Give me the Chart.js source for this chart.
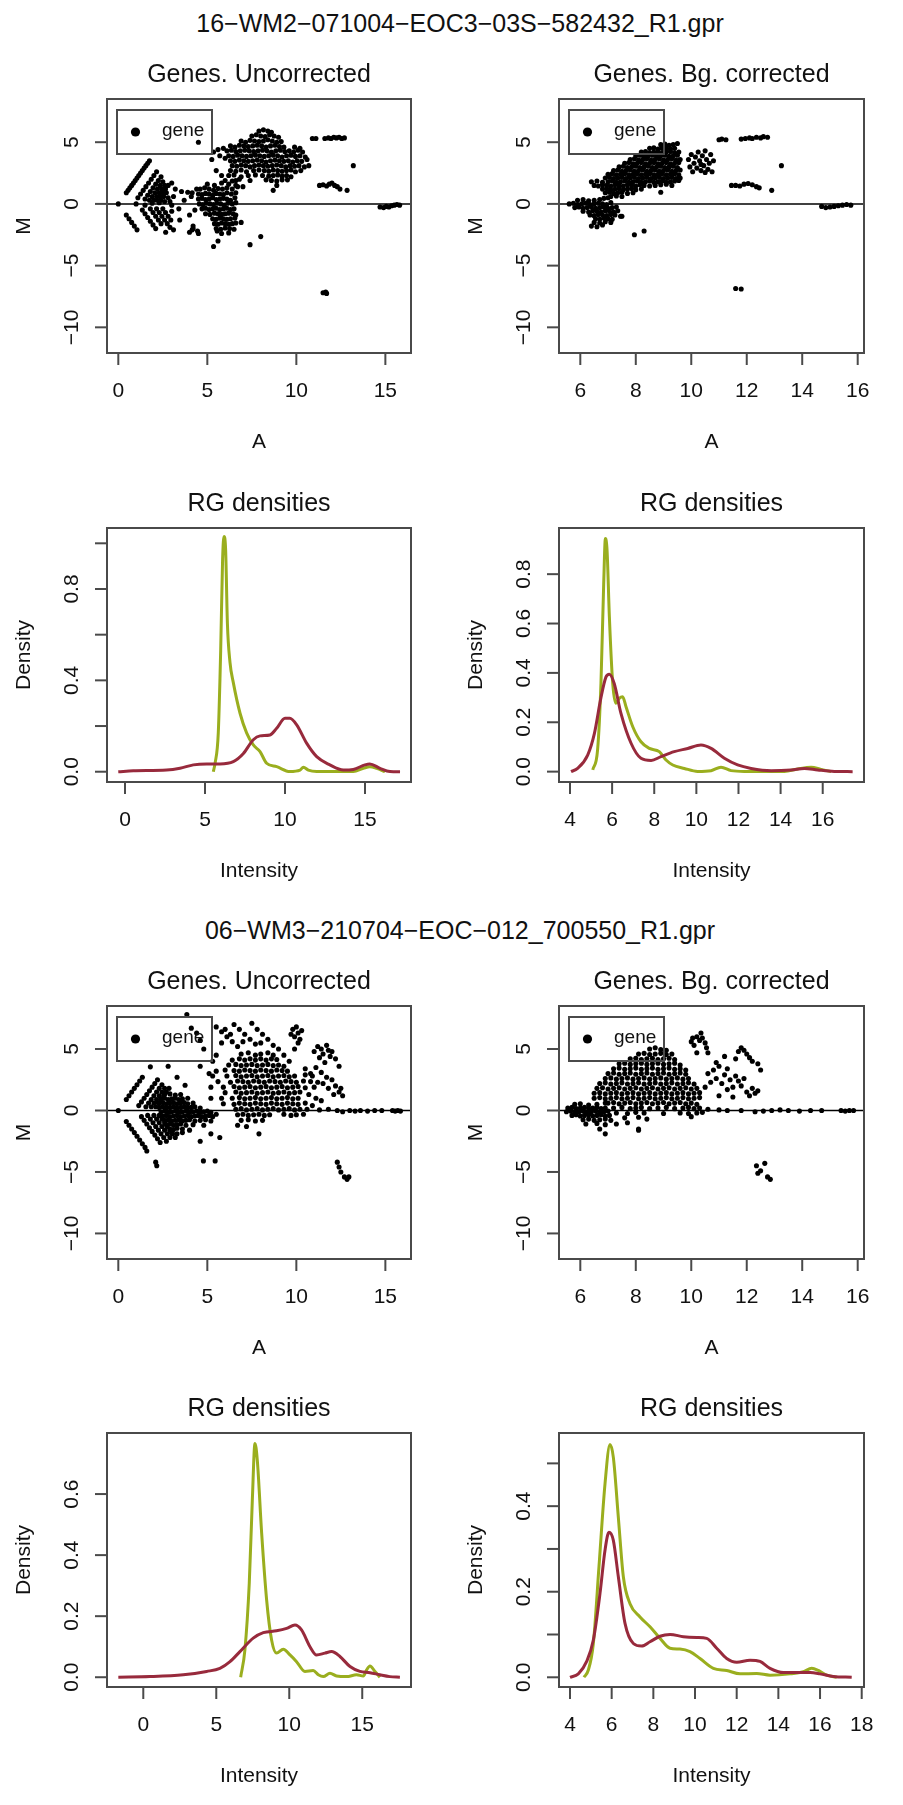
<!DOCTYPE html>
<html>
<head>
<meta charset="utf-8">
<script src="https://cdn.jsdelivr.net/npm/chart.js@4.4.0/dist/chart.umd.min.js"></script>
<style>
  body { margin: 0; background: #fff; width: 903px; height: 1805px; position: relative; overflow: hidden; font-family: "Liberation Sans", Arial, sans-serif; }
  canvas { position: absolute; }
  .main { position: absolute; left: 0; width: 920px; text-align: center; font-size: 25px; line-height: 30px; color: #111; }
</style>
</head>
<body>
<div class="main" style="top:8px">16−WM2−071004−EOC3−03S−582432_R1.gpr</div>
<div class="main" style="top:915px">06−WM3−210704−EOC−012_700550_R1.gpr</div>

<canvas id="s1"></canvas><canvas id="s2"></canvas>
<canvas id="d1"></canvas><canvas id="d2"></canvas>
<canvas id="s3"></canvas><canvas id="s4"></canvas>
<canvas id="d3"></canvas><canvas id="d4"></canvas>

<script>
// ---- tick values ----
const scatterYTicks = [-10, -5, 0, 5];
const xTicksWide = [0, 5, 10, 15];
const xTicksBg = [6, 8, 10, 12, 14, 16];
const d1YTicks = [0, 0.2, 0.4, 0.6, 0.8, 1.0];
const d1YLabels = [0, 0.4, 0.8];
const d2YTicks = [0, 0.2, 0.4, 0.6, 0.8];
const d3YTicks = [0, 0.2, 0.4, 0.6];
const d4YTicks = [0, 0.1, 0.2, 0.3, 0.4, 0.5];
const d4YLabels = [0, 0.2, 0.4];
const d2XTicks = [4, 6, 8, 10, 12, 14, 16];
const d4XTicks = [4, 6, 8, 10, 12, 14, 16, 18];

// ---- MA plot points [A, M] ----
// array 1: 16-WM2, uncorrected
const s1Pts = [
  [0,0],[0.45,0.9],[0.55,1.1],[0.65,1.3],[0.75,1.5],[0.85,1.7],[0.95,1.9],[1.05,2.1],[1.15,2.3],[1.25,2.5],[1.35,2.7],[1.45,2.9],[1.55,3.1],[1.65,3.3],[1.75,3.5],
  [1.1,0.5],[1.25,0.8],[1.4,1.1],[1.55,1.4],[1.7,1.7],[1.85,2.0],[2.0,2.3],[2.15,2.6],
  [1.5,0.4],[1.65,0.7],[1.8,1.0],[1.95,1.3],[2.1,1.6],[2.25,1.9],[2.4,2.2],
  [1.75,0.3],[1.9,0.6],[2.05,0.9],[2.2,1.2],[2.35,1.5],[2.5,1.8],
  [2.0,0.3],[2.15,0.6],[2.3,0.9],[2.45,1.2],[2.6,1.5],
  [2.2,0.3],[2.35,0.6],[2.5,0.9],[2.65,1.2],[2.8,1.5],
  [2.4,0.3],[2.55,0.6],[2.7,0.9],
  [1.0,0.0],[1.5,-0.1],[1.9,0.05],[2.3,0.1],[2.6,0.2],[2.8,0.5],[2.9,0.2],[3.0,-0.1],
  [0.45,-0.9],[0.6,-1.2],[0.75,-1.5],[0.9,-1.8],[1.05,-2.1],
  [1.35,-0.5],[1.5,-0.8],[1.65,-1.1],[1.8,-1.4],[1.95,-1.7],[2.1,-2.0],
  [1.8,-0.4],[1.95,-0.7],[2.1,-1.0],[2.25,-1.3],[2.4,-1.6],
  [2.15,-0.4],[2.3,-0.7],[2.45,-1.0],[2.6,-1.3],[2.75,-1.6],[2.9,-1.9],
  [2.5,-0.4],[2.65,-0.7],[2.8,-1.0],[2.95,-1.3],
  [2.66,-2.3],[3.1,-2.1],[3.45,-1.3],[3.0,-0.6],
  [3.1,0.6],[3.0,1.7],[3.2,1.2],[3.55,1.0],[3.9,0.95],[4.15,0.9],[4.1,0.6],[3.7,0.3],[4.3,-0.5],[4.15,-2.1],[4.2,-1.8],[4.5,-2.4],[4.45,-2.2],[3.4,-0.4],[4.0,-0.9],[4.4,1.2],[4.5,5.0],
  [5.0,1.6],[5.4,1.5],[5.8,1.7],[6.2,1.6],[6.6,1.9],
  [4.6,1.2],[4.85,1.3],[5.1,1.2],[5.35,1.1],[5.6,1.25],[5.85,1.2],[6.1,1.3],[6.4,1.2],[6.7,1.4],
  [4.5,0.8],[4.7,0.75],[4.9,0.85],[5.1,0.8],[5.3,0.7],[5.5,0.85],[5.7,0.8],[5.9,0.75],[6.1,0.9],[6.35,0.8],[6.6,0.9],
  [4.5,0.4],[4.7,0.45],[4.9,0.35],[5.1,0.4],[5.3,0.5],[5.5,0.35],[5.7,0.4],[5.9,0.45],[6.1,0.4],[6.3,0.3],[6.55,0.5],
  [4.55,0.0],[4.75,-0.05],[4.95,0.05],[5.15,0.0],[5.35,-0.05],[5.55,0.05],[5.75,0.0],[5.95,-0.1],[6.15,0.05],[6.4,0.0],[6.6,0.1],
  [4.7,-0.4],[4.9,-0.35],[5.1,-0.45],[5.3,-0.4],[5.5,-0.35],[5.7,-0.45],[5.9,-0.4],[6.1,-0.35],[6.3,-0.45],[6.5,-0.4],
  [4.9,-0.8],[5.15,-0.85],[5.4,-0.75],[5.6,-0.8],[5.8,-0.85],[6.0,-0.8],[6.2,-0.75],[6.45,-0.8],[6.6,-0.9],
  [5.3,-1.2],[5.5,-1.25],[5.7,-1.15],[5.9,-1.2],[6.1,-1.25],[6.3,-1.2],[6.55,-1.15],
  [5.4,-1.6],[5.6,-1.65],[5.8,-1.55],[6.0,-1.6],[6.2,-1.65],[6.4,-1.6],[6.6,-1.55],
  [5.5,-2.0],[5.75,-2.05],[6.0,-1.95],[6.25,-2.0],[6.5,-2.05],
  [5.8,-2.4],[6.2,-2.35],[5.55,-2.2],
  [5.35,-3.45],[5.6,-3.0],[7.4,-3.3],[8.0,-2.65],[6.9,-1.5],[4.2,-2.0],[4.0,-2.3],
  [5.25,3.6],[5.35,4.2],[5.6,4.4],[5.9,4.5],[5.7,3.9],[6.0,3.7],[5.5,2.7],[5.8,2.3],
  [7.9,5.9],[8.15,6.0],[8.4,5.9],[8.6,5.8],
  [7.5,5.5],[7.75,5.6],[8.0,5.5],[8.25,5.45],[8.5,5.6],[8.75,5.5],[9.0,5.4],
  [6.9,5.1],[7.15,5.0],[7.4,5.15],[7.65,5.1],[7.9,5.05],[8.15,5.1],[8.4,5.2],[8.65,5.1],[8.9,5.0],[9.15,5.05],
  [6.3,4.7],[6.55,4.6],[6.8,4.75],[7.05,4.7],[7.3,4.65],[7.55,4.7],[7.8,4.75],[8.05,4.7],[8.3,4.6],[8.55,4.7],[8.8,4.75],[9.05,4.65],[9.3,4.6],[9.9,4.6],[10.2,4.5],
  [6.1,4.3],[6.35,4.35],[6.6,4.25],[6.85,4.3],[7.1,4.35],[7.35,4.3],[7.6,4.25],[7.85,4.3],[8.1,4.35],[8.35,4.3],[8.6,4.2],[8.85,4.3],[9.1,4.35],[9.35,4.25],[9.6,4.3],[9.85,4.2],[10.1,4.35],[10.35,4.2],
  [6.2,3.9],[6.45,3.85],[6.7,3.95],[6.95,3.9],[7.2,3.85],[7.45,3.9],[7.7,3.95],[7.95,3.9],[8.2,3.85],[8.45,3.9],[8.7,3.95],[8.95,3.9],[9.2,3.8],[9.45,3.9],[9.7,3.95],[9.95,3.85],[10.2,3.9],[10.5,3.8],
  [6.3,3.5],[6.55,3.45],[6.8,3.55],[7.05,3.5],[7.3,3.45],[7.55,3.5],[7.8,3.55],[8.05,3.5],[8.3,3.4],[8.55,3.5],[8.8,3.55],[9.05,3.5],[9.3,3.45],[9.55,3.5],[9.8,3.4],[10.05,3.5],[10.3,3.45],[10.6,3.6],
  [6.4,3.1],[6.65,3.05],[6.9,3.15],[7.15,3.1],[7.4,3.0],[7.65,3.1],[7.9,3.15],[8.15,3.1],[8.4,3.05],[8.65,3.1],[8.9,3.15],[9.15,3.1],[9.4,3.0],[9.65,3.1],[9.9,3.05],[10.15,3.1],[10.45,3.0],[10.7,3.1],
  [6.3,2.7],[6.6,2.65],[6.9,2.75],[7.2,2.6],[7.6,2.7],[7.9,2.75],[8.2,2.7],[8.45,2.65],[8.7,2.75],[8.95,2.7],[9.2,2.65],[9.45,2.7],[9.7,2.75],[9.95,2.6],[10.25,2.7],
  [6.2,2.3],[6.5,2.35],[6.9,2.2],[7.3,2.3],[7.7,2.35],[8.1,2.3],[8.45,2.25],[8.7,2.3],[8.95,2.35],[9.2,2.25],[9.45,2.3],[9.7,2.2],
  [6.0,1.9],[6.4,1.85],[6.8,2.0],[7.4,1.9],[8.3,1.95],[8.6,1.9],[8.9,1.85],[9.2,1.95],[9.5,1.95],
  [6.6,1.5],[7.0,1.4],[8.7,1.1],[8.9,1.5],
  [10.9,5.3],[11.1,5.3],[11.6,5.3],[11.8,5.35],[11.95,5.3],[12.1,5.4],[12.25,5.35],[12.4,5.4],[12.55,5.3],[12.7,5.35],
  [11.3,1.5],[11.5,1.55],[11.7,1.45],[11.85,1.6],[12.0,1.7],[12.15,1.5],[12.3,1.4],[12.45,1.2],[12.85,1.1],[13.2,3.1],
  [14.7,-0.25],[14.9,-0.3],[15.05,-0.2],[15.2,-0.25],[15.35,-0.15],[15.5,-0.1],[15.65,-0.05],[15.8,-0.1],
  [11.5,-7.2],[11.65,-7.15],[11.7,-7.25]
];

// array 1: 16-WM2, background corrected
const s2Pts = [
  [5.9,0.3],[6.1,0.35],[6.3,0.25],[6.5,0.3],[6.7,0.35],[6.85,0.45],[7.0,0.5],
  [5.6,0.0],[5.75,0.05],[5.9,-0.05],[6.05,0.0],[6.2,0.05],[6.35,-0.05],[6.5,0.0],[6.65,0.05],[6.8,0.0],[6.95,-0.05],[7.1,0.1],
  [5.8,-0.3],[5.95,-0.25],[6.1,-0.35],[6.25,-0.3],[6.4,-0.25],[6.55,-0.35],[6.7,-0.3],[6.85,-0.25],[7.0,-0.35],[7.15,-0.3],[7.3,-0.25],
  [6.1,-0.6],[6.3,-0.65],[6.45,-0.55],[6.6,-0.6],[6.75,-0.65],[6.9,-0.55],[7.05,-0.6],[7.2,-0.65],[7.35,-0.55],
  [6.35,-0.9],[6.5,-0.95],[6.65,-0.85],[6.8,-0.9],[6.95,-0.95],[7.1,-0.85],[7.25,-0.9],[7.45,-1.0],
  [6.55,-1.2],[6.7,-1.25],[6.85,-1.15],[7.0,-1.2],[7.15,-1.25],
  [6.5,-1.5],[6.7,-1.55],[6.9,-1.45],[7.1,-1.5],
  [6.4,-1.8],[6.6,-1.85],[6.8,-1.7],
  [7.1,0.6],[7.3,0.65],[7.5,0.6],
  [6.9,0.9],[7.05,0.95],[7.2,0.85],[7.35,0.9],[7.5,0.95],[7.7,0.85],[7.9,0.9],[8.9,0.95],
  [6.8,1.2],[6.95,1.25],[7.1,1.15],[7.25,1.2],[7.4,1.25],[7.55,1.15],[7.7,1.2],[7.85,1.25],[8.0,1.15],[8.2,1.2],
  [6.5,1.5],[6.65,1.45],[6.8,1.55],[6.95,1.5],[7.1,1.45],[7.25,1.55],[7.4,1.5],[7.55,1.45],[7.7,1.55],[7.85,1.5],[8.0,1.45],[8.15,1.55],[8.3,1.5],[8.5,1.45],[8.7,1.5],[8.9,1.55],[9.1,1.6],[9.3,1.5],
  [6.4,1.8],[6.6,1.85],[6.8,1.75],[7.0,1.8],[7.15,1.85],[7.3,1.75],[7.45,1.8],[7.6,1.85],[7.75,1.75],[7.9,1.8],[8.05,1.85],[8.2,1.75],[8.35,1.8],[8.5,1.85],[8.65,1.75],[8.8,1.8],[8.95,1.85],[9.1,1.75],[9.25,1.8],[9.4,1.85],[9.55,1.9],
  [6.9,2.1],[7.05,2.15],[7.2,2.05],[7.35,2.1],[7.5,2.15],[7.65,2.05],[7.8,2.1],[7.95,2.15],[8.1,2.05],[8.25,2.1],[8.4,2.15],[8.55,2.05],[8.7,2.1],[8.85,2.15],[9.0,2.05],[9.15,2.1],[9.3,2.15],[9.45,2.05],[9.6,2.1],
  [7.0,2.4],[7.15,2.45],[7.3,2.35],[7.45,2.4],[7.6,2.45],[7.75,2.35],[7.9,2.4],[8.05,2.45],[8.2,2.35],[8.35,2.4],[8.5,2.45],[8.65,2.35],[8.8,2.4],[8.95,2.45],[9.1,2.35],[9.25,2.4],[9.4,2.45],[9.55,2.35],
  [7.2,2.7],[7.35,2.75],[7.5,2.65],[7.65,2.7],[7.8,2.75],[7.95,2.65],[8.1,2.7],[8.25,2.75],[8.4,2.65],[8.55,2.7],[8.7,2.75],[8.85,2.65],[9.0,2.7],[9.15,2.75],[9.3,2.65],[9.45,2.7],[9.6,2.75],
  [7.4,3.0],[7.55,3.05],[7.7,2.95],[7.85,3.0],[8.0,3.05],[8.15,2.95],[8.3,3.0],[8.45,3.05],[8.6,2.95],[8.75,3.0],[8.9,3.05],[9.05,2.95],[9.2,3.0],[9.35,3.05],[9.5,2.95],
  [7.6,3.3],[7.75,3.35],[7.9,3.25],[8.05,3.3],[8.2,3.35],[8.35,3.25],[8.5,3.3],[8.65,3.35],[8.8,3.25],[8.95,3.3],[9.1,3.35],[9.25,3.25],[9.4,3.3],[9.55,3.35],
  [7.8,3.6],[7.95,3.65],[8.1,3.55],[8.25,3.6],[8.4,3.65],[8.55,3.55],[8.7,3.6],[8.85,3.65],[9.0,3.55],[9.15,3.6],[9.3,3.65],[9.45,3.55],[9.6,3.6],
  [8.0,3.9],[8.15,3.95],[8.3,3.85],[8.45,3.9],[8.6,3.95],[8.75,3.85],[8.9,3.9],[9.05,3.95],[9.2,3.85],[9.35,3.9],[9.5,3.95],
  [8.2,4.2],[8.35,4.25],[8.5,4.15],[8.65,4.2],[8.8,4.25],[8.95,4.15],[9.1,4.2],[9.25,4.25],[9.4,4.15],[9.55,4.2],
  [8.5,4.5],[8.65,4.55],[8.8,4.45],[8.95,4.5],[9.1,4.55],[9.25,4.45],[9.4,4.5],
  [8.9,4.8],[9.05,4.85],[9.2,4.75],[9.35,4.8],[9.5,4.9],
  [9.9,3.6],[10.0,4.0],[10.1,3.3],[10.15,3.8],[10.2,2.9],[10.25,4.2],[10.3,3.5],[10.35,2.7],[10.4,3.9],[10.45,3.1],[10.5,4.3],[10.55,3.6],[10.6,2.8],[10.65,3.3],[10.7,4.0],[10.75,2.6],[10.8,3.5],[10.05,2.6],[9.95,3.0],[10.35,3.2],[10.5,2.55],
  [11.0,5.2],[11.1,5.25],[11.25,5.2],[11.8,5.25],[11.95,5.3],[12.1,5.35],[12.2,5.3],[12.35,5.4],[12.5,5.35],[12.6,5.45],[12.75,5.4],
  [11.45,1.5],[11.6,1.5],[11.75,1.45],[11.9,1.6],[12.05,1.65],[12.2,1.55],[12.35,1.4],[12.45,1.3],[12.9,1.1],[13.25,3.1],
  [11.6,-6.85],[11.8,-6.9],
  [14.7,-0.2],[14.85,-0.3],[15.0,-0.25],[15.15,-0.2],[15.3,-0.15],[15.45,-0.1],[15.6,-0.05],[15.75,-0.1],
  [7.5,-1.0],[7.95,-2.5],[8.3,-2.2]
];

// array 2: 06-WM3, uncorrected
const s3Pts = [
  [0,0],[0.45,0.9],[0.6,1.2],[0.75,1.5],[0.9,1.8],[1.05,2.1],[1.2,2.4],[1.35,2.7],
  [1.15,0.4],[1.3,0.7],[1.45,1.0],[1.6,1.3],[1.75,1.6],[1.9,1.9],[2.05,2.2],[2.2,2.5],
  [1.55,0.3],[1.7,0.6],[1.85,0.9],[2.0,1.2],[2.15,1.5],[2.3,1.8],[2.45,2.1],
  [1.85,0.3],[2.0,0.6],[2.15,0.9],[2.3,1.2],[2.45,1.5],[2.6,1.8],
  [2.1,0.3],[2.25,0.6],[2.4,0.9],[2.55,1.2],[2.7,1.5],[2.85,1.8],
  [0.45,-0.9],[0.6,-1.2],[0.75,-1.5],[0.9,-1.8],[1.05,-2.1],[1.2,-2.4],[1.35,-2.7],[1.5,-3.0],[1.6,-3.3],
  [1.3,-0.5],[1.45,-0.8],[1.6,-1.1],[1.75,-1.4],[1.9,-1.7],[2.05,-2.0],[2.2,-2.3],[2.35,-2.6],
  [1.65,-0.4],[1.8,-0.7],[1.95,-1.0],[2.1,-1.3],[2.25,-1.6],[2.4,-1.9],[2.55,-2.2],[2.7,-2.5],
  [2.0,-0.4],[2.15,-0.7],[2.3,-1.0],[2.45,-1.3],[2.6,-1.6],[2.75,-1.9],[2.9,-2.2],
  [2.3,-0.4],[2.45,-0.7],[2.6,-1.0],[2.75,-1.3],[2.9,-1.6],[3.05,-1.9],[3.2,-2.2],
  [2.16,-4.5],[2.1,-4.2],[1.8,3.55],[2.8,3.6],[4.6,3.6],[3.3,2.7],[3.75,2.05],[3.85,7.8],[4.1,6.7],[4.4,6.3],[4.6,5.7],[4.8,5.0],
  [2.6,1.3],[2.9,1.35],[3.2,1.25],[3.5,1.3],
  [2.4,0.95],[2.6,1.0],[2.8,0.9],[3.0,0.95],[3.2,1.0],[3.4,0.9],[3.6,0.95],[3.9,1.0],
  [2.3,0.6],[2.5,0.65],[2.7,0.55],[2.9,0.6],[3.1,0.65],[3.3,0.55],[3.5,0.6],[3.7,0.65],[3.9,0.55],[4.2,0.6],
  [2.3,0.25],[2.5,0.3],[2.7,0.2],[2.9,0.25],[3.1,0.3],[3.3,0.2],[3.5,0.25],[3.7,0.3],[3.9,0.2],[4.1,0.25],[4.3,0.3],[4.6,0.2],
  [2.4,-0.1],[2.6,-0.05],[2.8,-0.15],[3.0,-0.1],[3.2,-0.05],[3.4,-0.15],[3.6,-0.1],[3.8,-0.05],[4.0,-0.15],[4.2,-0.1],[4.4,-0.05],[4.6,-0.15],[4.8,-0.1],[5.0,-0.05],[5.2,-0.15],
  [2.5,-0.45],[2.7,-0.4],[2.9,-0.5],[3.1,-0.45],[3.3,-0.4],[3.5,-0.5],[3.7,-0.45],[3.9,-0.4],[4.1,-0.5],[4.3,-0.45],[4.5,-0.4],[4.7,-0.5],[4.9,-0.45],[5.1,-0.4],[5.3,-0.5],[5.5,-0.3],
  [2.6,-0.8],[2.8,-0.75],[3.0,-0.85],[3.2,-0.8],[3.4,-0.75],[3.6,-0.85],[3.8,-0.8],[4.0,-0.75],[4.3,-0.85],[4.6,-0.8],[4.9,-0.75],[5.2,-0.85],
  [2.7,-1.15],[2.9,-1.1],[3.1,-1.2],[3.3,-1.15],[3.5,-1.1],[3.8,-1.2],[4.2,-1.15],[4.8,-1.2],
  [2.9,-1.5],[3.1,-1.55],[3.3,-1.45],[3.6,-1.5],[4.0,-1.6],
  [3.0,-1.85],[3.3,-1.9],[3.6,-1.8],
  [4.6,-2.5],[4.78,-4.1],[5.44,-4.1],[5.7,-2.2],[5.2,-1.9],
  [6.9,4.6],[7.3,4.7],[7.7,4.5],[8.0,4.6],[8.4,4.7],[8.7,4.5],
  [6.4,4.1],[6.8,4.2],[7.1,4.1],[7.4,4.2],[7.7,4.1],[8.0,4.2],[8.3,4.1],[8.6,4.2],[8.9,4.15],
  [6.2,3.7],[6.6,3.75],[6.9,3.65],[7.2,3.7],[7.5,3.75],[7.8,3.65],[8.1,3.7],[8.4,3.75],[8.7,3.65],[9.0,3.7],[9.3,3.6],
  [5.5,3.2],[6.0,3.3],[6.5,3.25],[6.8,3.2],[7.1,3.3],[7.4,3.25],[7.7,3.2],[8.0,3.3],[8.3,3.25],[8.6,3.2],[8.9,3.3],[9.2,3.25],[9.5,3.2],
  [5.3,2.8],[6.1,2.8],[6.6,2.85],[6.9,2.75],[7.2,2.8],[7.5,2.85],[7.8,2.75],[8.1,2.8],[8.4,2.85],[8.7,2.75],[9.0,2.8],[9.3,2.85],[9.6,2.75],[9.9,2.8],[10.5,2.9],[10.9,2.8],
  [5.6,2.35],[6.3,2.3],[6.7,2.4],[7.0,2.35],[7.3,2.3],[7.6,2.4],[7.9,2.35],[8.2,2.3],[8.5,2.4],[8.8,2.35],[9.1,2.3],[9.4,2.4],[9.7,2.35],[10.0,2.3],[10.4,2.4],[10.8,2.35],[11.2,2.3],
  [5.2,1.9],[5.9,1.9],[6.5,1.95],[6.8,1.85],[7.1,1.9],[7.4,1.95],[7.7,1.85],[8.0,1.9],[8.3,1.95],[8.6,1.85],[8.9,1.9],[9.2,1.95],[9.5,1.85],[9.8,1.9],[10.1,1.95],[10.5,1.85],[11.0,1.9],
  [6.0,1.45],[6.6,1.5],[6.9,1.4],[7.2,1.45],[7.5,1.5],[7.8,1.4],[8.1,1.45],[8.4,1.5],[8.7,1.4],[9.0,1.45],[9.3,1.5],[9.6,1.4],[9.9,1.45],[10.2,1.5],
  [5.8,1.0],[6.4,1.0],[6.8,1.05],[7.1,0.95],[7.4,1.0],[7.7,1.05],[8.0,0.95],[8.3,1.0],[8.6,1.05],[8.9,0.95],[9.2,1.0],[9.5,1.05],[9.8,0.95],[10.1,1.0],
  [5.9,0.55],[6.5,0.5],[6.8,0.6],[7.1,0.55],[7.4,0.5],[7.7,0.6],[8.0,0.55],[8.3,0.5],[8.6,0.6],[8.9,0.55],[9.2,0.5],[9.5,0.6],[9.8,0.55],[10.1,0.5],
  [6.6,0.1],[6.9,0.15],[7.2,0.05],[7.5,0.1],[7.8,0.15],[8.1,0.05],[8.4,0.1],[8.7,0.15],[9.0,0.05],[9.3,0.1],[9.6,0.15],[9.9,0.05],[10.2,0.1],
  [6.7,-0.35],[7.0,-0.3],[7.3,-0.4],[7.6,-0.35],[7.9,-0.3],[8.2,-0.4],[8.5,-0.35],[9.3,-0.3],[9.7,-0.4],[10.0,-0.35],
  [6.9,-0.8],[7.3,-0.75],[7.7,-0.85],[8.1,-0.8],
  [6.7,-1.2],[7.2,-1.3],[7.9,-1.9],
  [5.5,6.8],[5.8,6.4],[6.1,6.0],[6.4,5.6],[6.7,5.2],
  [6.5,7.0],[6.8,6.6],[7.1,6.2],[7.4,5.8],[7.7,5.4],
  [7.5,7.1],[7.8,6.6],[8.1,6.2],[8.4,5.8],[8.7,5.3],
  [6.0,6.6],[6.3,6.2],[7.0,5.6],[8.0,5.5],[9.0,5.0],[9.3,4.5],[9.6,4.0],[5.8,5.5],[5.3,4.0],[5.5,4.5],[5.1,3.0],[5.2,1.0],
  [9.7,6.2],[9.8,6.6],[9.9,6.0],[10.0,6.8],[10.1,6.3],[10.2,5.8],[10.3,6.5],[10.1,5.5],[9.9,5.0],
  [11.0,4.8],[11.2,5.2],[11.4,5.0],[11.5,4.6],[11.7,5.3],[11.8,4.9],[11.9,4.4],[12.0,4.8],[12.2,4.2],[12.4,3.6],[11.3,4.3],[11.6,3.9],
  [10.5,3.4],[10.8,3.0],[11.1,3.5],[11.4,3.1],[11.7,2.7],[12.0,2.5],[12.2,2.0],[12.4,1.5],[12.6,1.2],[12.5,1.8],[12.1,1.3],[11.5,2.2],[11.8,1.8],[10.7,1.3],[11.1,1.0],[10.5,0.6],[10.9,0.4],[11.4,0.8],
  [10.4,-0.3],[10.6,0.1],[11.3,0.05],[11.8,0.1],[12.3,0.0],[12.6,-0.1],[13.0,0.0],[13.3,-0.05],[13.6,0.0],[14.0,-0.05],[14.4,0.0],[14.8,0.0],[15.4,0.0],[15.55,-0.05],[15.7,0.0],[15.85,-0.05],
  [12.3,-4.2],[12.4,-4.6],[12.5,-5.0],[12.7,-5.4],[12.85,-5.6],[12.95,-5.4]
];

// array 2: 06-WM3, background corrected
const s4Pts = [
  [5.8,0.5],[6.0,0.55],[6.3,0.45],[6.6,0.5],[6.9,0.6],
  [5.55,0.2],[5.7,0.25],[5.85,0.15],[6.0,0.2],[6.15,0.25],[6.3,0.15],[6.45,0.2],[6.6,0.25],[6.75,0.15],[6.9,0.2],
  [5.5,-0.1],[5.65,-0.05],[5.8,-0.15],[5.95,-0.1],[6.1,-0.05],[6.25,-0.15],[6.4,-0.1],[6.55,-0.05],[6.7,-0.15],[6.85,-0.1],[7.0,-0.05],
  [5.7,-0.4],[5.85,-0.35],[6.0,-0.45],[6.15,-0.4],[6.3,-0.35],[6.45,-0.45],[6.6,-0.4],[6.75,-0.35],[6.9,-0.45],[7.05,-0.4],
  [6.1,-0.75],[6.3,-0.7],[6.5,-0.8],[6.7,-0.75],[6.9,-0.7],[7.1,-0.8],
  [6.2,-1.1],[6.6,-1.05],[6.9,-1.15],[7.3,-1.1],
  [6.7,-1.5],[6.9,-1.9],[8.1,-1.6],[7.7,-1.0],
  [8.5,5.0],[8.7,5.1],[8.9,4.95],[9.1,4.9],
  [8.1,4.6],[8.3,4.65],[8.5,4.55],[8.7,4.6],[8.9,4.65],[9.1,4.55],[9.3,4.6],
  [7.8,4.2],[8.0,4.25],[8.2,4.15],[8.4,4.2],[8.6,4.25],[8.8,4.15],[9.0,4.2],[9.2,4.25],[9.4,4.15],
  [7.4,3.8],[7.6,3.85],[7.8,3.75],[8.0,3.8],[8.2,3.85],[8.4,3.75],[8.6,3.8],[8.8,3.85],[9.0,3.75],[9.2,3.8],[9.4,3.85],[9.6,3.7],
  [7.2,3.4],[7.4,3.45],[7.6,3.35],[7.8,3.4],[8.0,3.45],[8.2,3.35],[8.4,3.4],[8.6,3.45],[8.8,3.35],[9.0,3.4],[9.2,3.45],[9.4,3.35],[9.6,3.4],[9.8,3.3],
  [7.0,3.0],[7.2,3.05],[7.4,2.95],[7.6,3.0],[7.8,3.05],[8.0,2.95],[8.2,3.0],[8.4,3.05],[8.6,2.95],[8.8,3.0],[9.0,3.05],[9.2,2.95],[9.4,3.0],[9.6,3.05],[9.8,2.95],
  [6.9,2.6],[7.1,2.65],[7.3,2.55],[7.5,2.6],[7.7,2.65],[7.9,2.55],[8.1,2.6],[8.3,2.65],[8.5,2.55],[8.7,2.6],[8.9,2.65],[9.1,2.55],[9.3,2.6],[9.5,2.65],[9.7,2.55],[9.9,2.6],
  [6.7,2.2],[6.9,2.25],[7.1,2.15],[7.3,2.2],[7.5,2.25],[7.7,2.15],[7.9,2.2],[8.1,2.25],[8.3,2.15],[8.5,2.2],[8.7,2.25],[8.9,2.15],[9.1,2.2],[9.3,2.25],[9.5,2.15],[9.7,2.2],[9.9,2.25],[10.1,2.15],
  [6.6,1.8],[6.8,1.85],[7.0,1.75],[7.2,1.8],[7.4,1.85],[7.6,1.75],[7.8,1.8],[8.0,1.85],[8.2,1.75],[8.4,1.8],[8.6,1.85],[8.8,1.75],[9.0,1.8],[9.2,1.85],[9.4,1.75],[9.6,1.8],[9.8,1.85],[10.0,1.75],[10.2,1.8],
  [6.5,1.4],[6.7,1.45],[6.9,1.35],[7.1,1.4],[7.3,1.45],[7.5,1.35],[7.7,1.4],[7.9,1.45],[8.1,1.35],[8.3,1.4],[8.5,1.45],[8.7,1.35],[8.9,1.4],[9.1,1.45],[9.3,1.35],[9.5,1.4],[9.7,1.45],[9.9,1.35],[10.1,1.4],[10.3,1.45],
  [6.5,1.0],[6.7,1.05],[6.9,0.95],[7.1,1.0],[7.3,1.05],[7.5,0.95],[7.7,1.0],[7.9,1.05],[8.1,0.95],[8.3,1.0],[8.5,1.05],[8.7,0.95],[8.9,1.0],[9.1,1.05],[9.3,0.95],[9.5,1.0],[9.7,1.05],[9.9,0.95],[10.1,1.0],[10.3,1.05],
  [7.0,0.6],[7.2,0.65],[7.4,0.55],[7.6,0.6],[7.8,0.65],[8.0,0.55],[8.2,0.6],[8.4,0.65],[8.6,0.55],[8.8,0.6],[9.0,0.65],[9.2,0.55],[9.4,0.6],[9.6,0.65],[9.8,0.55],[10.0,0.6],[10.2,0.5],
  [7.2,0.2],[7.5,0.25],[7.8,0.15],[8.0,0.2],[8.2,0.25],[8.5,0.15],[8.8,0.2],[9.1,0.25],[9.4,0.15],[9.7,0.2],[9.9,0.25],[10.1,0.15],[10.3,0.2],
  [7.3,-0.2],[7.7,-0.25],[8.0,-0.15],[8.3,-0.2],[9.0,-0.25],[9.6,-0.2],[9.9,-0.25],[10.2,-0.2],[10.4,-0.15],
  [7.6,-0.6],[8.1,-0.55],[8.4,-0.7],[10.0,-0.5],[8.1,-1.5],
  [10.0,5.6],[10.05,5.9],[10.1,5.3],[10.2,6.0],[10.3,5.7],[10.35,6.3],[10.4,5.9],[10.5,5.5],[10.55,5.1],[10.6,4.7],[10.2,4.7],
  [10.6,3.0],[10.8,3.3],[10.9,2.6],[11.0,3.6],[11.1,2.2],[11.2,2.9],[11.3,3.4],[11.4,2.5],[11.5,1.9],[11.6,2.8],[11.7,2.4],[11.8,2.0],[11.9,2.6],[12.0,1.5],[12.1,1.2],[12.2,1.8],[12.3,1.4],[12.4,1.6],[11.3,1.7],[10.7,2.3],[10.5,1.9],[11.0,1.2],
  [10.9,3.9],[11.2,4.4],[11.6,4.2],[11.7,4.8],[11.8,5.1],[11.9,4.9],[12.0,4.6],[12.1,4.3],[12.2,4.0],[12.4,3.8],[12.5,3.3],[11.5,1.1],
  [10.6,0.1],[11.0,0.05],[11.3,0.0],[11.8,0.0],[12.3,-0.1],[12.6,-0.05],[12.9,0.0],[13.2,0.05],[13.5,0.0],[13.9,-0.05],[14.3,0.0],[14.7,0.0],[15.4,0.0],[15.55,-0.05],[15.7,0.0],[15.85,0.0],
  [12.35,-4.5],[12.5,-4.9],[12.4,-5.1],[12.65,-4.3],[12.75,-5.4],[12.85,-5.6]
];

// ---- RG densities [intensity, density] ----
const d1Red = [[-0.42,0],[0.52,0.004],[2.6,0.007],[3.44,0.015],[4.27,0.03],[5.1,0.034],[5.94,0.034],[6.77,0.044],[7.4,0.08],[8.02,0.14],[8.44,0.157],[9.06,0.161],[9.48,0.19],[10.0,0.234],[10.3,0.234],[10.73,0.205],[11.35,0.125],[11.98,0.066],[12.8,0.03],[13.65,0.007],[14.27,0.01],[15.0,0.03],[15.3,0.034],[15.94,0.015],[16.56,0.001],[17.19,0]];
const d1Green = [[5.52,0],[5.63,0.037],[5.83,0.17],[5.98,0.53],[6.1,0.93],[6.19,1.03],[6.29,0.97],[6.4,0.65],[6.56,0.48],[6.77,0.39],[7.19,0.256],[7.6,0.17],[8.02,0.117],[8.44,0.088],[8.85,0.037],[9.48,0.022],[10.3,0.001],[10.94,0.007],[11.15,0.02],[11.46,0.007],[11.98,0.001],[14.27,0.001],[14.9,0.015],[15.3,0.022],[15.73,0.015],[16.25,0]];
const d2Red = [[4.05,0],[4.36,0.013],[4.84,0.067],[5.16,0.155],[5.47,0.3],[5.71,0.384],[5.87,0.395],[6.1,0.357],[6.42,0.236],[6.9,0.115],[7.37,0.054],[7.85,0.045],[8.32,0.061],[8.95,0.081],[9.59,0.094],[10.22,0.108],[10.7,0.094],[11.33,0.054],[11.96,0.027],[12.6,0.013],[13.55,0.004],[14.5,0.007],[15.13,0.013],[15.76,0.007],[16.55,0.001],[17.42,0]];
const d2Green = [[5.08,0.007],[5.31,0.088],[5.47,0.357],[5.6,0.76],[5.68,0.944],[5.76,0.897],[5.87,0.627],[6.03,0.357],[6.18,0.277],[6.34,0.297],[6.5,0.303],[6.66,0.263],[6.98,0.182],[7.37,0.121],[7.77,0.094],[8.24,0.081],[8.56,0.047],[8.88,0.027],[9.43,0.013],[10.06,0.001],[10.7,0.004],[11.17,0.018],[11.65,0.004],[12.28,0.001],[14.18,0.001],[14.81,0.011],[15.45,0.018],[15.92,0.009],[16.4,0]];
const d3Red = [[-1.71,0],[0.46,0.002],[2.74,0.008],[4.34,0.019],[5.25,0.029],[5.94,0.051],[6.62,0.084],[7.53,0.128],[8.22,0.146],[9.13,0.152],[9.82,0.16],[10.39,0.171],[10.84,0.155],[11.42,0.1],[11.87,0.073],[12.44,0.079],[12.9,0.084],[13.47,0.068],[14.16,0.035],[14.84,0.019],[15.53,0.015],[16.21,0.008],[16.89,0.002],[17.58,0]];
const d3Green = [[6.67,0],[6.96,0.089],[7.26,0.308],[7.47,0.58],[7.65,0.766],[7.81,0.711],[8.11,0.471],[8.45,0.253],[8.79,0.122],[9.13,0.079],[9.59,0.092],[10.05,0.073],[10.5,0.051],[11.07,0.019],[11.64,0.022],[11.99,0.008],[12.33,0.002],[12.79,0.013],[13.24,0.004],[13.93,0.002],[14.61,0.008],[15.07,0.004],[15.3,0.024],[15.53,0.037],[15.87,0.019],[16.21,0]];
const d4Red = [[4,0],[4.4,0.008],[4.8,0.037],[5.12,0.087],[5.44,0.196],[5.68,0.297],[5.87,0.339],[6.08,0.32],[6.32,0.235],[6.64,0.126],[7.04,0.079],[7.44,0.073],[7.84,0.083],[8.32,0.096],[8.8,0.1],[9.44,0.095],[10.08,0.093],[10.56,0.091],[11.04,0.068],[11.52,0.044],[12.0,0.035],[12.64,0.04],[13.12,0.037],[13.6,0.021],[14.24,0.011],[14.88,0.011],[15.52,0.011],[16.0,0.008],[16.64,0.002],[17.52,0]];
const d4Green = [[4.67,0],[4.88,0.017],[5.12,0.079],[5.39,0.258],[5.68,0.452],[5.92,0.544],[6.08,0.514],[6.32,0.374],[6.56,0.235],[6.88,0.172],[7.36,0.141],[7.84,0.118],[8.32,0.091],[8.8,0.068],[9.28,0.066],[9.76,0.06],[10.24,0.044],[10.88,0.021],[11.52,0.016],[12.16,0.008],[12.96,0.009],[13.6,0.005],[14.56,0.008],[15.2,0.013],[15.6,0.021],[15.92,0.016],[16.32,0.005],[16.8,0]];

const RED = '#982a3c';
const GREEN = '#9aae1e';
const INK = '#111';
const FRAME = '#4a4a4a';
const FONT = '"Liberation Sans", Arial, sans-serif';

// canvas cells and plot boxes (page px)
const cols = [{ x: 0, w: 451, l: 107, r: 411 }, { x: 451, w: 452, l: 559, r: 864 }];
const rows = [
  { y: 40, h: 420, t: 99, b: 353 },
  { y: 460, h: 440, t: 528, b: 782 },
  { y: 945, h: 420, t: 1006, b: 1259 },
  { y: 1365, h: 440, t: 1433, b: 1687 }
];

const fmtM = v => (v < 0 ? '\u2212' + Math.abs(v) : String(v));
const fmtD = v => v.toFixed(1);

const panels = [
  { id: 's1', col: 0, row: 0, kind: 'ma', title: 'Genes. Uncorrected', pts: s1Pts, x: [-0.635, 16.44], y: [-12.08, 8.5], xt: xTicksWide, yt: scatterYTicks },
  { id: 's2', col: 1, row: 0, kind: 'ma', title: 'Genes. Bg. corrected', pts: s2Pts, x: [5.232, 16.227], y: [-12.08, 8.5], xt: xTicksBg, yt: scatterYTicks },
  { id: 'd1', col: 0, row: 1, kind: 'dens', red: d1Red, green: d1Green, x: [-1.125, 17.875], y: [-0.045, 1.067], xt: xTicksWide, yt: d1YTicks, yl: d1YLabels },
  { id: 'd2', col: 1, row: 1, kind: 'dens', red: d2Red, green: d2Green, x: [3.478, 17.96], y: [-0.042, 0.987], xt: d2XTicks, yt: d2YTicks },
  { id: 's3', col: 0, row: 2, kind: 'ma', title: 'Genes. Uncorrected', pts: s3Pts, x: [-0.635, 16.44], y: [-12.08, 8.5], xt: xTicksWide, yt: scatterYTicks },
  { id: 's4', col: 1, row: 2, kind: 'ma', title: 'Genes. Bg. corrected', pts: s4Pts, x: [5.232, 16.227], y: [-12.08, 8.5], xt: xTicksBg, yt: scatterYTicks },
  { id: 'd3', col: 0, row: 3, kind: 'dens', red: d3Red, green: d3Green, x: [-2.486, 18.34], y: [-0.032, 0.8], xt: xTicksWide, yt: d3YTicks },
  { id: 'd4', col: 1, row: 3, kind: 'dens', red: d4Red, green: d4Green, x: [3.472, 18.11], y: [-0.0227, 0.571], xt: d4XTicks, yt: d4YTicks, yl: d4YLabels }
];

// base-graphics style frame, ticks, titles and legend
function makeFrame(p) {
  return {
    id: 'rFrame',
    afterDatasetsDraw(chart) {
      const ctx = chart.ctx, ca = chart.chartArea;
      const xs = chart.scales.x, ys = chart.scales.y;
      const cx = (ca.left + ca.right) / 2, cy = (ca.top + ca.bottom) / 2;
      ctx.save();
      ctx.fillStyle = INK;
      ctx.textAlign = 'center';
      ctx.textBaseline = 'middle';

      if (p.kind === 'ma') {
        const y0 = ys.getPixelForValue(0);
        ctx.strokeStyle = '#000';
        ctx.lineWidth = 1.5;
        ctx.beginPath(); ctx.moveTo(ca.left, y0); ctx.lineTo(ca.right, y0); ctx.stroke();
        // legend
        ctx.strokeStyle = FRAME; ctx.lineWidth = 2;
        ctx.strokeRect(ca.left + 10, ca.top + 11, 95, 44);
        ctx.beginPath(); ctx.arc(ca.left + 28.5, ca.top + 33, 4.6, 0, Math.PI * 2); ctx.fillStyle = '#000'; ctx.fill();
        ctx.fillStyle = INK;
        ctx.font = '19px ' + FONT;
        ctx.textAlign = 'left';
        ctx.fillText('gene', ca.left + 55, ca.top + 32);
        ctx.textAlign = 'center';
      }

      ctx.strokeStyle = FRAME;
      ctx.lineWidth = 2;
      ctx.strokeRect(ca.left, ca.top, ca.right - ca.left, ca.bottom - ca.top);

      ctx.font = '21px ' + FONT;
      const fmt = p.kind === 'ma' ? fmtM : fmtD;
      p.xt.forEach(v => {
        const px = xs.getPixelForValue(v);
        ctx.beginPath(); ctx.moveTo(px, ca.bottom); ctx.lineTo(px, ca.bottom + 12); ctx.stroke();
        ctx.fillText(String(v), px, ca.bottom + 38.5);
      });
      p.yt.forEach(v => {
        const py = ys.getPixelForValue(v);
        ctx.beginPath(); ctx.moveTo(ca.left - 12, py); ctx.lineTo(ca.left, py); ctx.stroke();
        if (!p.yl || p.yl.includes(v)) {
          ctx.save();
          ctx.translate(ca.left - 34.5, py);
          ctx.rotate(-Math.PI / 2);
          ctx.fillText(fmt(v), 0, 0);
          ctx.restore();
        }
      });

      ctx.font = '25px ' + FONT;
      ctx.fillText(p.kind === 'ma' ? p.title : 'RG densities', cx, ca.top - 23.5);

      ctx.font = '21px ' + FONT;
      ctx.fillText(p.kind === 'ma' ? 'A' : 'Intensity', cx, ca.bottom + 89);
      ctx.save();
      ctx.translate(ca.left - 83, cy);
      ctx.rotate(-Math.PI / 2);
      ctx.fillText(p.kind === 'ma' ? 'M' : 'Density', 0, 0);
      ctx.restore();

      ctx.restore();
    }
  };
}

const toXY = arr => arr.map(d => ({ x: d[0], y: d[1] }));

panels.forEach(p => {
  const c = cols[p.col], r = rows[p.row];
  const el = document.getElementById(p.id);
  el.width = c.w; el.height = r.h;
  el.style.left = c.x + 'px'; el.style.top = r.y + 'px';
  el.style.width = c.w + 'px'; el.style.height = r.h + 'px';

  const datasets = p.kind === 'ma'
    ? [{ data: toXY(p.pts), pointRadius: 2.55, pointBackgroundColor: '#000', pointBorderWidth: 0 }]
    : [
        { data: toXY(p.red), borderColor: RED, borderWidth: 3, pointRadius: 0, cubicInterpolationMode: 'monotone', fill: false },
        { data: toXY(p.green), borderColor: GREEN, borderWidth: 3, pointRadius: 0, cubicInterpolationMode: 'monotone', fill: false }
      ];

  new Chart(el, {
    type: p.kind === 'ma' ? 'scatter' : 'line',
    data: { datasets },
    options: {
      responsive: false,
      animation: false,
      devicePixelRatio: 1,
      events: [],
      layout: { padding: { left: c.l - c.x, right: c.x + c.w - c.r, top: r.t - r.y, bottom: r.y + r.h - r.b } },
      plugins: { legend: { display: false }, tooltip: { enabled: false } },
      scales: {
        x: { type: 'linear', display: false, min: p.x[0], max: p.x[1] },
        y: { type: 'linear', display: false, min: p.y[0], max: p.y[1] }
      }
    },
    plugins: [makeFrame(p)]
  });
});
</script>
</body>
</html>
